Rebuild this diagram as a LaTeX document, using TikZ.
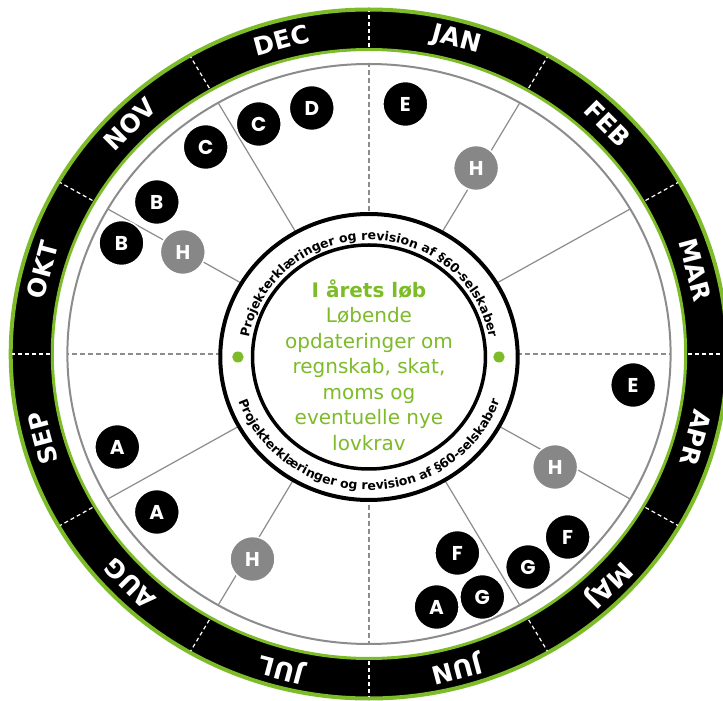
\documentclass[tikz,border=0pt]{standalone}
\usepackage{fontspec}
\setmainfont{DejaVu Sans}
\newfontfamily\badgefont{Poppins}
\usetikzlibrary{decorations.text}
\definecolor{wheelgreen}{RGB}{125,187,40}
\definecolor{spokegray}{RGB}{140,140,140}
\definecolor{hgray}{RGB}{135,135,135}
\newcommand\arcfont{\bfseries\fontsize{12.5}{14}\selectfont}

\begin{document}
\begin{tikzpicture}[x=1.04pt, y=1pt,
	spoke/.style={draw=spokegray, line width=1.2pt},
	axisline/.style={spoke, dash pattern=on 5pt off 3pt},
	badge/.style={circle, fill=black, draw=white, line width=1.5pt, minimum size=45pt, inner sep=0pt,
		text=white, font=\badgefont\bfseries\fontsize{20}{20}\selectfont},
	hbadge/.style={badge, fill=hgray},
	month/.style={text=white, inner sep=0pt, font=\bfseries\fontsize{25}{25}\selectfont},
	arctext/.style={decorate, decoration={text along path, text align=center, text={|\arcfont|#1}}}]
	\clip (-354.8,-347) rectangle (340.4,354);
	% ring with months
	\fill[black] (0,0) circle (345);
	\fill[white] (0,0) circle (304);
	\draw[wheelgreen, line width=4pt] (0,0) circle (344.5);
	\draw[wheelgreen, line width=3pt] (0,0) circle (304.5);
	\foreach \a in {0,30,...,330}
		\draw[white, line width=1.2pt, dash pattern=on 4pt off 3pt] (\a:307) -- (\a:343);
	\foreach \m [count=\i, evaluate=\i as \a using 105-30*\i] in {JAN,FEB,MAR,APR,MAJ,JUN,JUL,AUG,SEP,OKT,NOV,DEC}
		\node[month, rotate=\a-90] (m\i) at (\a:325) {\m};
	\draw[spokegray, line width=2pt] (0,0) circle (290);
	\foreach \a in {30,60,120,150,210,240,300,330}
		\draw[spoke] (\a:135) -- (\a:290);
	\foreach \a in {0,90,180,270}
		\draw[axisline] (\a:135) -- (\a:290);
	% centre
	\begin{scope}[shift={(0,-3)}]
		\draw[line width=4pt, fill=white] (0,0) circle (143);
		\draw[line width=3.5pt] (0,0) circle (112);
		\fill[wheelgreen] (180:126) circle (5.5) (0:125) circle (5.5);
		\path[arctext={Projekterklæringer og revision af §60-selskaber}] (185:117) arc[start angle=185, end angle=-5, radius=117];
		\path[arctext={Projekterklæringer og revision af §60-selskaber}] (-178:133) arc[start angle=-178, end angle=-2, radius=133];
		\node[text=wheelgreen, align=center, font=\fontsize{20}{25.5}\selectfont] (info) at (0,-8)
			{\textbf{I årets løb}\\Løbende\\opdateringer om\\regnskab, skat,\\moms og\\eventuelle nye\\lovkrav};
	\end{scope}
	% badges
	\node[badge] (d1) at (-55,246) {D};
	\node[badge] (c1) at (-106,230) {C};
	\node[badge] (c2) at (-157,207) {C};
	\node[badge] (b1) at (-204,152) {B};
	\node[badge] (b2) at (-238,111) {B};
	\node[badge] (e1) at (35,250) {E};
	\node[badge] (e2) at (254,-31) {E};
	\node[badge] (f1) at (191,-183) {F};
	\node[badge] (g1) at (153,-213) {G};
	\node[badge] (f2) at (85,-199) {F};
	\node[badge] (a1) at (65,-253) {A};
	\node[badge] (g2) at (109,-243) {G};
	\node[badge] (a2) at (-242,-93) {A};
	\node[badge] (a3) at (-204,-158) {A};
	\foreach \p [count=\i] in {(-179,102),(103,186),(179,-113),(-112,-205)}
		\node[hbadge] (h\i) at \p {H};
\end{tikzpicture}
\end{document}
